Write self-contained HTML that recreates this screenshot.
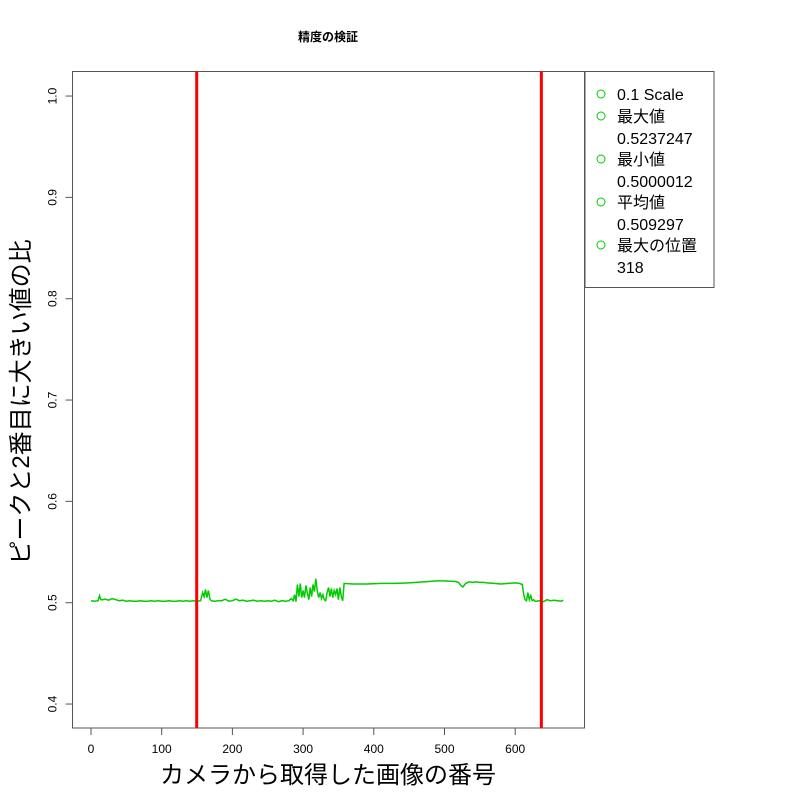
<!DOCTYPE html>
<html><head><meta charset="utf-8"><style>
body{margin:0;background:#fff}
text{font-family:"Liberation Sans","Noto Sans CJK JP",sans-serif}
</style></head><body>
<svg id="c" width="800" height="800" xmlns="http://www.w3.org/2000/svg">
<rect width="800" height="800" fill="#fff"/>
<text x="328" y="41" text-anchor="middle" font-size="12" font-weight="bold">精度の検証</text>
<g id="plot"></g>
<text x="328" y="783" text-anchor="middle" font-size="24">カメラから取得した画像の番号</text>
<text transform="translate(29,402) rotate(-90)" text-anchor="middle" font-size="24">ピークと2番目に大きい値の比</text>
<g>
<rect x="585" y="71.5" width="129" height="216" fill="#fff" stroke="#555" stroke-width="1"/>
<g font-size="16">
<circle cx="601" cy="94" r="4" fill="none" stroke="#00cc00"/><text x="617" y="100">0.1 Scale</text>
<circle cx="601" cy="116" r="4" fill="none" stroke="#00cc00"/><text x="617" y="122">最大値</text>
<text x="617" y="144">0.5237247</text>
<circle cx="601" cy="159" r="4" fill="none" stroke="#00cc00"/><text x="617" y="165">最小値</text>
<text x="617" y="187">0.5000012</text>
<circle cx="601" cy="202" r="4" fill="none" stroke="#00cc00"/><text x="617" y="208">平均値</text>
<text x="617" y="230">0.509297</text>
<circle cx="601" cy="245" r="4" fill="none" stroke="#00cc00"/><text x="617" y="251">最大の位置</text>
<text x="617" y="273">318</text>
</g></g>
</svg>
<script>
const xTicks=[0,100,200,300,400,500,600];
const yTicks=[0.4,0.5,0.6,0.7,0.8,0.9,1.0];
const vlines=[149.5,637];
const xs=[0,5,10,12,14,16,20,25,30,35,40,45,50,55,60,65,70,75,80,85,90,95,100,105,110,115,120,125,130,135,140,145,150,155,158,160,162,164,166,168,170,175,180,185,190,195,200,205,210,215,220,225,230,235,240,245,250,255,260,265,270,275,280,283,286,288,290,292,294,296,298,300,302,304,306,308,310,312,314,316,318,320,322,324,326,328,330,332,334,336,338,340,342,344,346,348,350,352,354,356,358,370,390,410,430,450,470,490,500,510,515,520,523,526,530,535,540,545,550,555,560,570,580,590,600,606,610,612,614,616,618,620,622,624,626,628,630,635,640,645,650,655,660,665,668];
const ys=[0.502,0.5015,0.502,0.507,0.503,0.503,0.5035,0.5025,0.504,0.503,0.502,0.5025,0.5015,0.502,0.5015,0.5015,0.502,0.5015,0.5015,0.502,0.5015,0.502,0.5015,0.5015,0.502,0.5015,0.5015,0.502,0.5015,0.502,0.5015,0.502,0.5015,0.502,0.510,0.506,0.513,0.505,0.512,0.504,0.502,0.5015,0.502,0.502,0.5035,0.5015,0.502,0.5035,0.502,0.5025,0.5015,0.502,0.5025,0.5015,0.502,0.5015,0.502,0.5015,0.5025,0.501,0.502,0.5015,0.502,0.504,0.502,0.508,0.501,0.518,0.506,0.519,0.505,0.512,0.505,0.517,0.510,0.503,0.515,0.506,0.518,0.511,0.5237,0.512,0.505,0.510,0.504,0.508,0.503,0.502,0.510,0.515,0.506,0.514,0.505,0.512,0.508,0.514,0.503,0.515,0.506,0.502,0.519,0.5185,0.5185,0.519,0.519,0.5195,0.5205,0.5215,0.5215,0.521,0.521,0.520,0.517,0.5155,0.519,0.5205,0.520,0.5205,0.520,0.520,0.5195,0.519,0.5185,0.519,0.5195,0.519,0.518,0.508,0.503,0.502,0.510,0.503,0.507,0.502,0.503,0.5015,0.5015,0.502,0.501,0.503,0.502,0.5025,0.502,0.5015,0.5025,0.5015,0.501];
const L=72.5,R=584.5,T=71.5,B=728;
const sx=v=>91+v*0.707;
const sy=v=>602.7-(v-0.5)*1013.3;
const NS='http://www.w3.org/2000/svg';
const g=document.getElementById('plot');
function mk(t,a){const e=document.createElementNS(NS,t);for(const k in a)e.setAttribute(k,a[k]);g.appendChild(e);return e;}
const box=mk('rect',{x:L,y:T,width:R-L,height:B-T,fill:'none',stroke:'#555'});


xTicks.forEach(t=>{const x=sx(t);
const l=mk('line',{x1:x,x2:x,y1:B,y2:B+7,stroke:'#555'});


const tx=mk('text',{x:x,y:B+25,'text-anchor':'middle','font-size':'12'});tx.textContent=t;

});
yTicks.forEach(t=>{const y=sy(t);
const l=mk('line',{x1:L-7,x2:L,y1:y,y2:y,stroke:'#555'});


const tx=mk('text',{x:0,y:0,'text-anchor':'middle','font-size':'12',transform:`translate(${L-16},${y}) rotate(-90)`});tx.textContent=t.toFixed(1);

});
let d='';xs.forEach((x,i)=>{d+=(i?'L':'M')+sx(x).toFixed(1)+' '+sy(ys[i]).toFixed(1);});
const p=mk('path',{d:d,fill:'none',stroke:'#00cc00','stroke-width':'1.5'});


vlines.forEach(v=>{const l=mk('line',{x1:sx(v),x2:sx(v),y1:T,y2:B,stroke:'#ff0000','stroke-width':'3'});

});
</script>
</body></html>
